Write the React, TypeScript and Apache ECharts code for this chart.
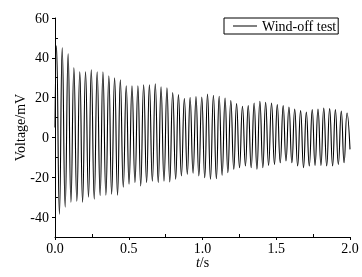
import React, { useEffect, useRef } from "react";
import * as echarts from "echarts";

// Sample times (s) of the trace's turning points
const times = [
  0.0, 0.01, 0.03, 0.049, 0.069, 0.089, 0.108, 0.128, 0.148, 0.168, 0.187,
  0.207, 0.227, 0.246, 0.266, 0.286, 0.306, 0.325, 0.345, 0.365, 0.384,
  0.404, 0.424, 0.443, 0.463, 0.483, 0.502, 0.522, 0.542, 0.562, 0.581,
  0.601, 0.621, 0.64, 0.66, 0.68, 0.7, 0.719, 0.739, 0.759, 0.778, 0.798,
  0.818, 0.837, 0.857, 0.877, 0.897, 0.916, 0.936, 0.956, 0.975, 0.995,
  1.015, 1.034, 1.054, 1.074, 1.094, 1.113, 1.133, 1.153, 1.172, 1.192,
  1.212, 1.231, 1.251, 1.271, 1.291, 1.31, 1.33, 1.35, 1.369, 1.389, 1.409,
  1.428, 1.448, 1.468, 1.488, 1.507, 1.527, 1.547, 1.566, 1.586, 1.606,
  1.625, 1.645, 1.665, 1.685, 1.704, 1.724, 1.744, 1.763, 1.783, 1.803,
  1.822, 1.842, 1.862, 1.882, 1.901, 1.921, 1.941, 1.96, 1.98, 2.0,
];

// Voltage (mV) at those times
const voltage = [
  5, 46, -38.5, 45, -35, 42, -32.5, 35, -32, 33, -32.5, 33, -30, 34, -31, 33,
  -29.3, 33, -29, 31, -28.5, 30, -29, 29, -25, 26, -23.5, 26, -22.7, 26,
  -24.3, 26.5, -22.7, 26.5, -22, 27, -22.7, 25.5, -22, 25, -22.3, 22.5, -21,
  21.5, -19.3, 19.5, -18.5, 20, -18, 20.5, -19.3, 20.3, -20.2, 21.8, -21,
  21.2, -20.7, 20.7, -19, 19.8, -17.7, 18.5, -16, 17, -15.2, 15.7, -14.3, 16,
  -15.2, 17.3, -16, 18.2, -15.2, 17.7, -14, 17.3, -13.5, 16.5, -12.7, 16,
  -11.8, 15.3, -12.7, 14.3, -14.3, 13.5, -15.2, 12.7, -14.3, 14, -14, 14.3,
  -14, 14.8, -14.3, 14.5, -14.3, 14, -13.5, 13.2, -12.7, 12.3, -6,
];

const yMajorTicks = [-40, -20, 0, 20, 40, 60];
const yMinorTicks = [-50, -30, -10, 10, 30, 50];
const xMajorTicks = [0, 0.5, 1.0, 1.5, 2.0];
const xMinorTicks = [0.25, 0.75, 1.25, 1.75];

const seriesName = "Wind-off test";
const FONT = "Liberation Serif";

export default function App() {
  const ref = useRef<HTMLDivElement>(null);
  useEffect(() => {
    if (!ref.current) return;
    const chart = echarts.init(ref.current, undefined, { renderer: "svg" });
    const data = times.map((t, i) => [t, voltage[i]]);
    chart.setOption({
      animation: false,
      textStyle: { fontFamily: FONT, color: "#000" },
      grid: { left: 55, right: 12, top: 18, bottom: 40 },
      legend: {
        left: 224,
        top: 18,
        padding: [1, 2, 1, 9],
        itemWidth: 24,
        itemHeight: 14,
        borderColor: "#000",
        borderWidth: 1,
        borderRadius: 0,
        textStyle: { fontFamily: FONT, fontSize: 14, color: "#000" },
        data: [{ name: seriesName, icon: "path://M0,7L24,7L24,8L0,8Z" }],
      },
      xAxis: [
        {
          type: "value",
          min: 0,
          max: 2,
          name: "{i|t}/s",
          nameLocation: "middle",
          nameGap: 18,
          nameMoveOverlap: false,
          nameTextStyle: {
            fontFamily: FONT,
            fontSize: 14,
            color: "#000",
            rich: {
              i: { fontFamily: FONT, fontSize: 14, fontStyle: "italic", color: "#000" },
            },
          },
          axisLine: { show: true, onZero: false, lineStyle: { color: "#000", width: 1 } },
          axisTick: {
            show: true,
            inside: false,
            length: 3,
            customValues: xMajorTicks,
            lineStyle: { color: "#000" },
          },
          axisLabel: {
            customValues: xMajorTicks,
            margin: 4,
            fontFamily: FONT,
            fontSize: 14,
            color: "#000",
            formatter: (v: number) => v.toFixed(1),
          },
          splitLine: { show: false },
        },
        {
          type: "value",
          min: 0,
          max: 2,
          position: "bottom",
          axisLine: { show: false, onZero: false },
          axisTick: {
            show: true,
            inside: true,
            length: 3,
            customValues: xMinorTicks,
            lineStyle: { color: "#000" },
          },
          axisLabel: { show: false },
          splitLine: { show: false },
        },
      ],
      yAxis: [
        {
          type: "value",
          min: -50,
          max: 60,
          name: "Voltage/mV",
          nameLocation: "middle",
          nameGap: 28,
          nameMoveOverlap: false,
          nameTextStyle: { fontFamily: FONT, fontSize: 14, color: "#000" },
          axisLine: { show: true, onZero: false, lineStyle: { color: "#000", width: 1 } },
          axisTick: {
            show: true,
            inside: false,
            length: 3,
            customValues: yMajorTicks,
            lineStyle: { color: "#000" },
          },
          axisLabel: {
            customValues: yMajorTicks,
            margin: 6,
            fontFamily: FONT,
            fontSize: 14,
            color: "#000",
          },
          splitLine: { show: false },
        },
        {
          type: "value",
          min: -50,
          max: 60,
          position: "left",
          axisLine: { show: false, onZero: false },
          axisTick: {
            show: true,
            inside: true,
            length: 3,
            customValues: yMinorTicks,
            lineStyle: { color: "#000" },
          },
          axisLabel: { show: false },
          splitLine: { show: false },
        },
      ],
      series: [
        {
          name: seriesName,
          type: "line",
          xAxisIndex: 0,
          yAxisIndex: 0,
          data,
          symbol: "none",
          smooth: 0.5,
          lineStyle: { color: "#000", width: 1.1 },
          itemStyle: { color: "#000" },
        },
      ],
    });
    return () => chart.dispose();
  }, []);
  return (
    <div
      ref={ref}
      style={{ position: "fixed", left: 0, top: 0, width: 362, height: 277 }}
    />
  );
}
